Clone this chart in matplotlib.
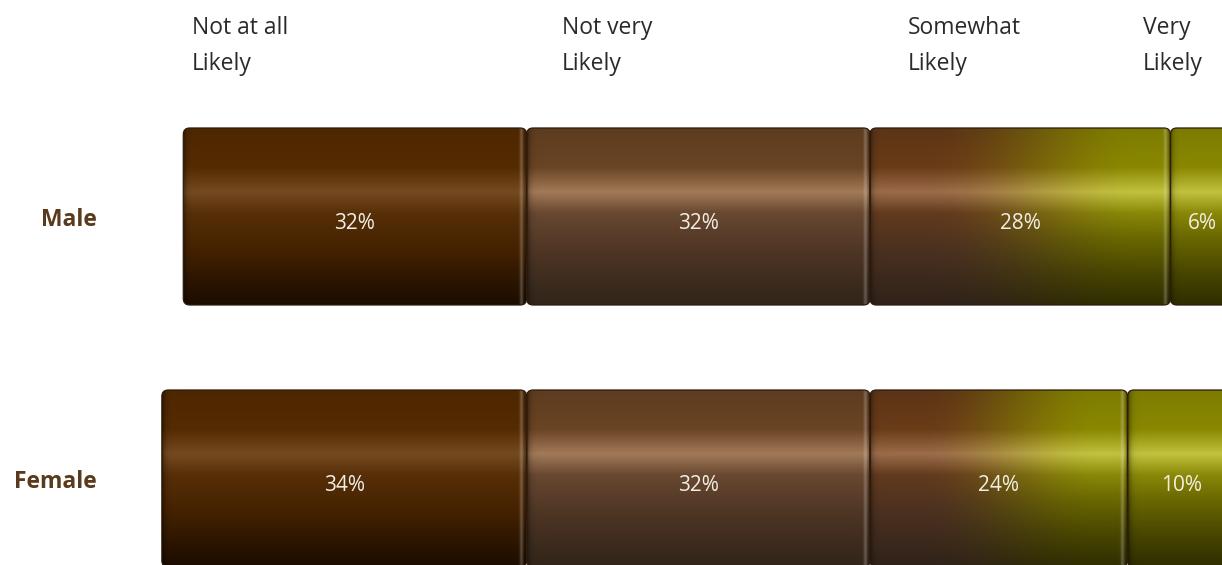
import numpy as np
import matplotlib
matplotlib.use("Agg")
import matplotlib.pyplot as plt
from matplotlib.colors import to_rgb
from matplotlib.patches import FancyBboxPatch

plt.rcParams['font.family'] = ['Open Sans', 'DejaVu Sans']

# --- data ---
categories = ['Not at all\nLikely', 'Not very\nLikely', 'Somewhat\nLikely', 'Very\nLikely']
groups = ['Male', 'Female']
male = [32, 32, 28, 6]
female = [34, 32, 24, 10]

# --- layout ---
W, H, DPI = 12.22, 5.65, 100
PX_X = 10.73          # pixels per percent
PX_Y = 262.0          # pixels per row
ZERO_PX = 870         # neutral line (between "not very" and "somewhat")
BAR_H = 177 / PX_Y
header_px = [192, 562, 908, 1143]

# colour stops: (fraction from top, colour)
stops_brown_dark = [(0, '#4e2700'), (0.22, '#552b02'), (0.36, '#754a20'), (0.48, '#572f08'),
                    (0.7, '#432100'), (0.88, '#2a1400'), (1, '#1c0c00')]
stops_brown_mid = [(0, '#5e3c1f'), (0.22, '#6a4424'), (0.36, '#a27a58'), (0.48, '#684830'),
                   (0.7, '#4e3524'), (0.88, '#3c2b1e'), (1, '#33251a')]
stops_brown_red = [(0, '#5c3416'), (0.22, '#6a3c18'), (0.36, '#9c6c4a'), (0.48, '#623a1e'),
                   (0.7, '#4a3020'), (0.88, '#3a281c'), (1, '#30221a')]
stops_olive = [(0, '#7e7c00'), (0.22, '#8a8800'), (0.36, '#c2c23e'), (0.48, '#8a8808'),
               (0.62, '#6a6800'), (0.82, '#484600'), (1, '#2e2e00')]


def vprofile(stops, n):
    t = np.linspace(0, 1, n)
    ts = [s[0] for s in stops]
    cols = np.array([to_rgb(s[1]) for s in stops])
    return np.stack([np.interp(t, ts, cols[:, k]) for k in range(3)], axis=1)


def segment_image(kind, width_px, nrows=200):
    ncols = max(int(width_px), 4)
    if kind == 'blend':
        left = vprofile(stops_brown_red, nrows)
        right = vprofile(stops_olive, nrows)
        u = np.linspace(0, 1, ncols)
        w = np.clip((u - 0.2) / 0.7, 0, 1)
        w = w * w * (3 - 2 * w)
        img = left[:, None, :] * (1 - w)[None, :, None] + right[:, None, :] * w[None, :, None]
    else:
        prof = vprofile(kind, nrows)
        img = np.repeat(prof[:, None, :], ncols, axis=1)
    # darkened ends and a soft highlight just inside the right end
    x = np.arange(ncols)
    d_left = x
    d_right = ncols - 1 - x
    shade = 1 - 0.45 * np.exp(-d_left / 2.5) - 0.45 * np.exp(-d_right / 2.0)
    img = img * shade[None, :, None]
    hl = 0.22 * np.exp(-((d_right - 5) / 1.8) ** 2)
    img = img + (1 - img) * hl[None, :, None]
    return np.clip(img, 0, 1)


seg_kinds = [stops_brown_dark, stops_brown_mid, 'blend', stops_olive]

fig = plt.figure(figsize=(W, H), dpi=DPI)
ax = fig.add_axes([0, 0, 1, 1])
ax.set_xlim(-ZERO_PX / PX_X, (W * DPI - ZERO_PX) / PX_X)
y_male_px, y_female_px = 216.5, 478.5
ax.set_ylim(-(H * DPI - y_female_px) / PX_Y, 1 + y_male_px / PX_Y)
ax.axis('off')

rows = [male, female]
ypos = [1, 0]
aspect = PX_X / PX_Y
for vals, y, name in zip(rows, ypos, groups):
    start = -(vals[0] + vals[1])
    lefts = start + np.concatenate([[0], np.cumsum(vals)[:-1]])
    for v, l, kind in zip(vals, lefts, seg_kinds):
        patch = FancyBboxPatch((l, y - BAR_H / 2), v, BAR_H,
                               boxstyle='round,pad=0,rounding_size=0.6',
                               mutation_aspect=aspect,
                               facecolor='none', edgecolor='#2e1c0c', lw=0.9, zorder=3)
        ax.add_patch(patch)
        im = ax.imshow(segment_image(kind, v * PX_X), extent=(l, l + v, y - BAR_H / 2, y + BAR_H / 2),
                       aspect='auto', interpolation='bilinear', zorder=2)
        im.set_clip_path(patch)
        ax.text(l + v / 2, y - 0.025, f'{v}%', ha='center', va='center',
                color='#f2eee6', fontsize=15, zorder=4)
    ax.text((97 - ZERO_PX) / PX_X, y - 0.015, name, ha='right', va='center',
            color='#5a3a1c', fontsize=16.5, fontweight='bold')

# header labels for the response categories
y_head = 1 + (y_male_px - 46) / PX_Y
for lab, px in zip(categories, header_px):
    ax.text((px - ZERO_PX) / PX_X, y_head, lab, ha='left', va='center',
            color='#2a2a2a', fontsize=16.5, linespacing=1.68)

fig.savefig('out.png', dpi=DPI)
